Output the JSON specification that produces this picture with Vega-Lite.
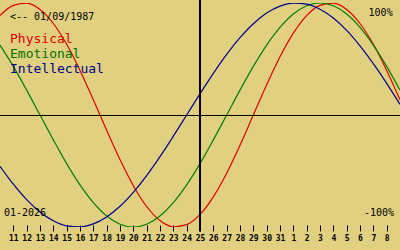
{
  "$schema": "https://vega.github.io/schema/vega-lite/v6.json",
  "width": 400,
  "height": 224,
  "autosize": "none",
  "padding": {"left": 0, "top": 3, "right": 0, "bottom": 23},
  "background": "#e0d080",
  "config": {"view": {"stroke": null}},
  "datasets": {
    "bio": [
      {"day": 10, "Physical": 0.888, "Emotional": 0.624, "Intellectual": -0.458},
      {"day": 11, "Physical": 0.979, "Emotional": 0.434, "Intellectual": -0.618},
      {"day": 12, "Physical": 0.998, "Emotional": 0.222, "Intellectual": -0.756},
      {"day": 13, "Physical": 0.942, "Emotional": 0.0, "Intellectual": -0.866},
      {"day": 14, "Physical": 0.817, "Emotional": -0.222, "Intellectual": -0.945},
      {"day": 15, "Physical": 0.631, "Emotional": -0.434, "Intellectual": -0.99},
      {"day": 16, "Physical": 0.398, "Emotional": -0.624, "Intellectual": -0.999},
      {"day": 17, "Physical": 0.136, "Emotional": -0.782, "Intellectual": -0.972},
      {"day": 18, "Physical": -0.136, "Emotional": -0.901, "Intellectual": -0.91},
      {"day": 19, "Physical": -0.398, "Emotional": -0.975, "Intellectual": -0.815},
      {"day": 20, "Physical": -0.631, "Emotional": -1.0, "Intellectual": -0.69},
      {"day": 21, "Physical": -0.817, "Emotional": -0.975, "Intellectual": -0.541},
      {"day": 22, "Physical": -0.942, "Emotional": -0.901, "Intellectual": -0.372},
      {"day": 23, "Physical": -0.998, "Emotional": -0.782, "Intellectual": -0.189},
      {"day": 24, "Physical": -0.979, "Emotional": -0.624, "Intellectual": 0.0},
      {"day": 25, "Physical": -0.888, "Emotional": -0.434, "Intellectual": 0.189},
      {"day": 26, "Physical": -0.731, "Emotional": -0.222, "Intellectual": 0.372},
      {"day": 27, "Physical": -0.52, "Emotional": 0.0, "Intellectual": 0.541},
      {"day": 28, "Physical": -0.27, "Emotional": 0.222, "Intellectual": 0.69},
      {"day": 29, "Physical": 0.0, "Emotional": 0.434, "Intellectual": 0.815},
      {"day": 30, "Physical": 0.27, "Emotional": 0.624, "Intellectual": 0.91},
      {"day": 31, "Physical": 0.52, "Emotional": 0.782, "Intellectual": 0.972},
      {"day": 32, "Physical": 0.731, "Emotional": 0.901, "Intellectual": 0.999},
      {"day": 33, "Physical": 0.888, "Emotional": 0.975, "Intellectual": 0.99},
      {"day": 34, "Physical": 0.979, "Emotional": 1.0, "Intellectual": 0.945},
      {"day": 35, "Physical": 0.998, "Emotional": 0.975, "Intellectual": 0.866},
      {"day": 36, "Physical": 0.942, "Emotional": 0.901, "Intellectual": 0.756},
      {"day": 37, "Physical": 0.817, "Emotional": 0.782, "Intellectual": 0.618},
      {"day": 38, "Physical": 0.631, "Emotional": 0.624, "Intellectual": 0.458},
      {"day": 39, "Physical": 0.398, "Emotional": 0.434, "Intellectual": 0.282},
      {"day": 40, "Physical": 0.136, "Emotional": 0.222, "Intellectual": 0.095}
    ]
  },
  "layer": [
    {
      "data": {"name": "bio"},
      "transform": [{"fold": ["Physical", "Emotional", "Intellectual"], "as": ["series", "value"]}],
      "mark": {"type": "line", "interpolate": "monotone", "strokeWidth": 1.2, "clip": true},
      "encoding": {
        "x": {
          "field": "day", "type": "quantitative",
          "scale": {"domain": [10, 40], "nice": false, "zero": false},
          "axis": {
            "values": [11,12,13,14,15,16,17,18,19,20,21,22,23,24,25,26,27,28,29,30,31,32,33,34,35,36,37,38,39],
            "tickCount": 40,
            "labelExpr": "datum.value > 31 ? datum.value - 31 : datum.value",
            "title": null, "domain": false, "grid": false,
            "offset": -2, "tickSize": 6, "tickColor": "#000000", "tickWidth": 1,
            "labelFont": "DejaVu Sans Mono", "labelFontSize": 8, "labelFontWeight": "bold",
            "labelColor": "#000000", "labelPadding": 3, "labelOverlap": false, "labelFlush": false
          }
        },
        "y": {
          "field": "value", "type": "quantitative",
          "scale": {"domain": [-1, 1], "nice": false, "zero": false},
          "axis": null
        },
        "color": {
          "field": "series", "type": "nominal",
          "scale": {"domain": ["Physical", "Emotional", "Intellectual"], "range": ["#e00000", "#008000", "#000090"]},
          "legend": null
        }
      }
    },
    {
      "data": {"values": [{}]},
      "mark": {"type": "rule", "color": "#000000", "strokeWidth": 1},
      "encoding": {"y": {"datum": -0.00446, "type": "quantitative"}}
    },
    {
      "data": {"values": [{}]},
      "mark": {"type": "rule", "color": "#000000", "strokeWidth": 2, "clip": false},
      "encoding": {
        "x": {"datum": 25, "type": "quantitative"},
        "y": {"datum": 1.03, "type": "quantitative"},
        "y2": {"datum": -1.04}
      }
    },
    {
      "data": {"values": [{}]},
      "mark": {"type": "text", "text": "<-- 01/09/1987", "align": "left", "baseline": "alphabetic", "font": "DejaVu Sans Mono", "fontSize": 10, "color": "#000000"},
      "encoding": {"x": {"datum": 10.75, "type": "quantitative"}, "y": {"datum": 0.848, "type": "quantitative"}}
    },
    {
      "data": {"values": [{}]},
      "mark": {"type": "text", "text": "Physical", "align": "left", "baseline": "alphabetic", "font": "DejaVu Sans Mono", "fontSize": 13, "color": "#e00000"},
      "encoding": {"x": {"datum": 10.75, "type": "quantitative"}, "y": {"datum": 0.643, "type": "quantitative"}}
    },
    {
      "data": {"values": [{}]},
      "mark": {"type": "text", "text": "Emotional", "align": "left", "baseline": "alphabetic", "font": "DejaVu Sans Mono", "fontSize": 13, "color": "#007000"},
      "encoding": {"x": {"datum": 10.75, "type": "quantitative"}, "y": {"datum": 0.509, "type": "quantitative"}}
    },
    {
      "data": {"values": [{}]},
      "mark": {"type": "text", "text": "Intellectual", "align": "left", "baseline": "alphabetic", "font": "DejaVu Sans Mono", "fontSize": 13, "color": "#000090"},
      "encoding": {"x": {"datum": 10.75, "type": "quantitative"}, "y": {"datum": 0.375, "type": "quantitative"}}
    },
    {
      "data": {"values": [{}]},
      "mark": {"type": "text", "text": "100%", "align": "right", "baseline": "alphabetic", "font": "DejaVu Sans Mono", "fontSize": 10, "color": "#000000"},
      "encoding": {"x": {"datum": 39.45, "type": "quantitative"}, "y": {"datum": 0.884, "type": "quantitative"}}
    },
    {
      "data": {"values": [{}]},
      "mark": {"type": "text", "text": "-100%", "align": "right", "baseline": "alphabetic", "font": "DejaVu Sans Mono", "fontSize": 10, "color": "#000000"},
      "encoding": {"x": {"datum": 39.55, "type": "quantitative"}, "y": {"datum": -0.902, "type": "quantitative"}}
    },
    {
      "data": {"values": [{}]},
      "mark": {"type": "text", "text": "01-2026", "align": "left", "baseline": "alphabetic", "font": "DejaVu Sans Mono", "fontSize": 10, "color": "#000000"},
      "encoding": {"x": {"datum": 10.3, "type": "quantitative"}, "y": {"datum": -0.902, "type": "quantitative"}}
    }
  ]
}
